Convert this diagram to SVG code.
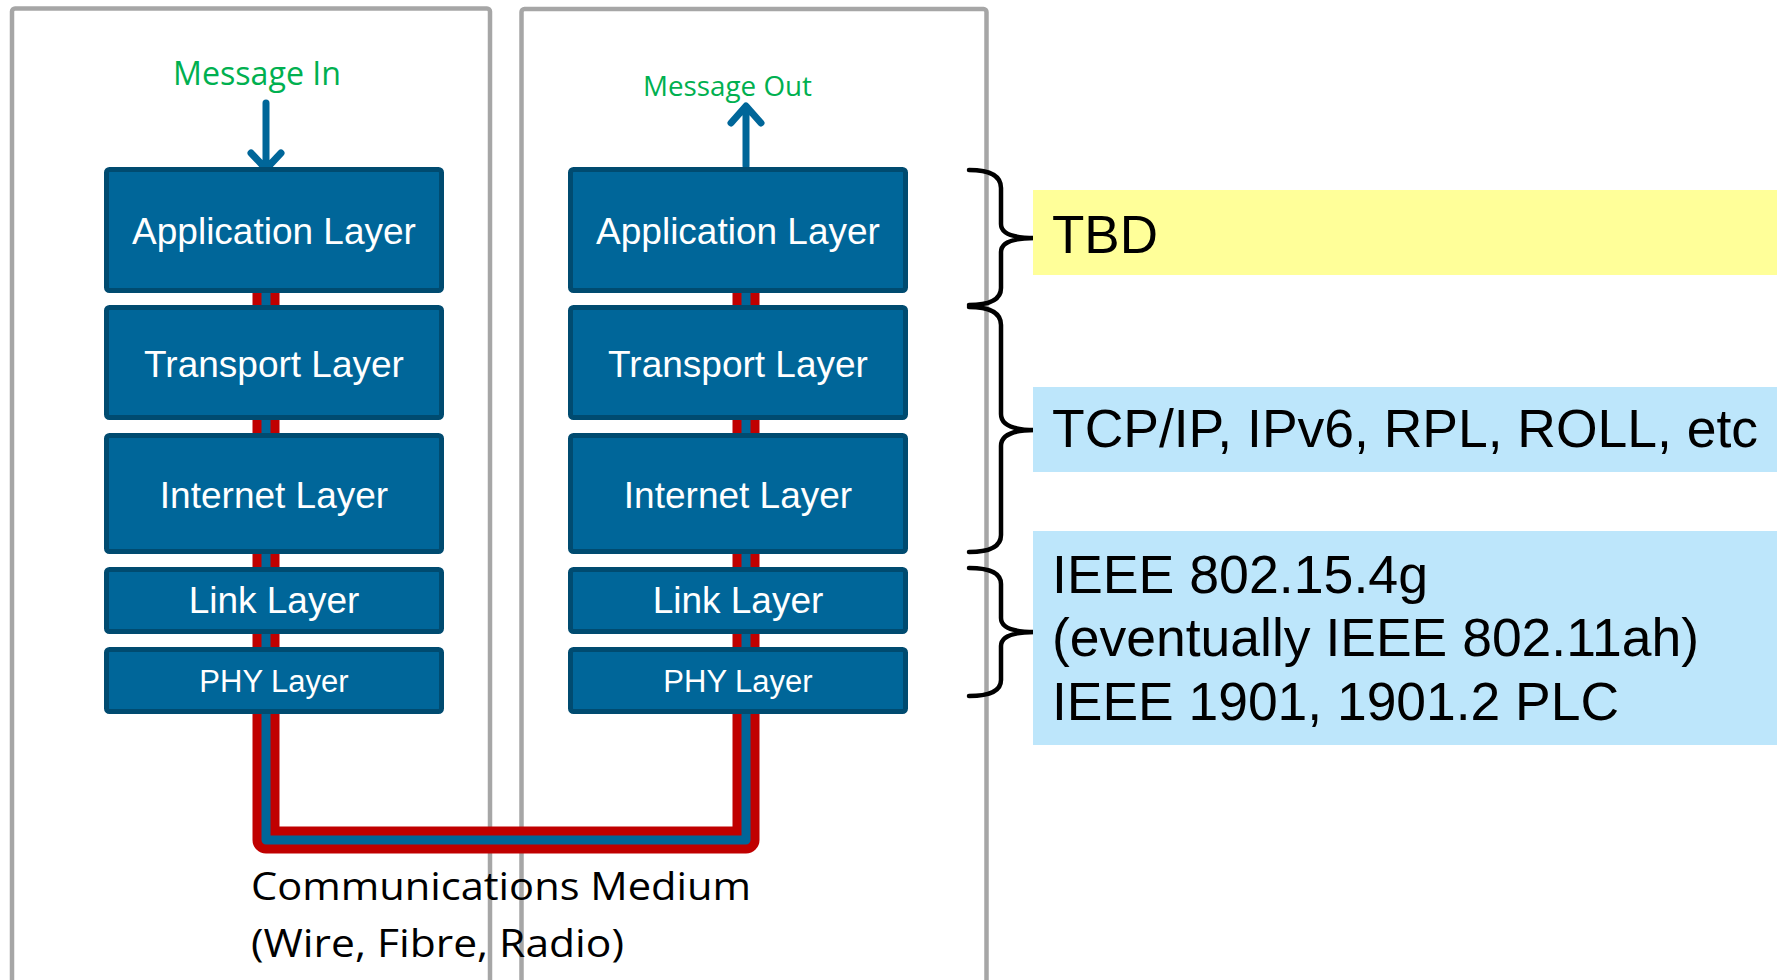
<svg xmlns="http://www.w3.org/2000/svg" width="1777" height="980" viewBox="0 0 1777 980">
  <style>
    .panel { fill: none; stroke: #a6a6a6; stroke-width: 4.5; }
    .layer { fill: #006699; stroke: #004b70; stroke-width: 5; }
    .lt { fill: #ffffff; font-family: "Liberation Sans", Arial, sans-serif; font-size: 37px; text-anchor: middle; }
    .lt-s { font-size: 31px; }
    .msg { fill: #00b050; font-family: "Open Sans", "Noto Sans", sans-serif; }
    .medium { fill: #000000; font-family: "Open Sans", "Noto Sans", sans-serif; font-size: 38px; }
    .note { fill: #000000; font-family: "Liberation Sans", Arial, sans-serif; font-size: 54px; }
    .brace { fill: none; stroke: #000000; stroke-width: 4.5; stroke-linecap: round; stroke-linejoin: round; }
    .arrow { fill: none; stroke: #006699; stroke-width: 7; stroke-linecap: round; stroke-linejoin: round; }
    .wire-outer { fill: none; stroke: #c00000; stroke-width: 27; stroke-linejoin: round; }
    .wire-inner { fill: none; stroke: #006699; stroke-width: 9; stroke-linejoin: round; }
  </style>

  <rect width="1777" height="980" fill="#ffffff"/>

  <!-- host frames -->
  <g id="host-sender">
    <rect class="panel" x="12" y="8.5" width="478" height="1000" rx="3"/>
  </g>
  <g id="host-receiver">
    <rect class="panel" x="521.5" y="9" width="465" height="1000" rx="3"/>
  </g>

  <!-- connectors: communication medium and message arrows -->
  <g id="connectors">
    <path class="wire-outer" d="M266,250 V840 H746 V250"/>
    <path class="wire-inner" d="M266,250 V840 H746 V250"/>
    <path class="arrow" d="M266,103 V167 M251,153 L266,169 L281,153"/>
    <path class="arrow" d="M746,166 V107 M731,123 L746,106 L761,123"/>
  </g>

  <!-- sender stack -->
  <g id="sender-application">
    <rect class="layer" x="106.5" y="169.5" width="335" height="121" rx="3"/>
    <text class="lt" x="274" y="244">Application Layer</text>
  </g>
  <g id="sender-transport">
    <rect class="layer" x="106.5" y="307.5" width="335" height="110" rx="3"/>
    <text class="lt" x="274" y="377">Transport Layer</text>
  </g>
  <g id="sender-internet">
    <rect class="layer" x="106.5" y="435.5" width="335" height="116" rx="3"/>
    <text class="lt" x="274" y="508">Internet Layer</text>
  </g>
  <g id="sender-link">
    <rect class="layer" x="106.5" y="569.5" width="335" height="62" rx="3"/>
    <text class="lt" x="274" y="613">Link Layer</text>
  </g>
  <g id="sender-phy">
    <rect class="layer" x="106.5" y="649.5" width="335" height="62" rx="3"/>
    <text class="lt lt-s" x="274" y="692">PHY Layer</text>
  </g>

  <!-- receiver stack -->
  <g id="receiver-application">
    <rect class="layer" x="570.5" y="169.5" width="335" height="121" rx="3"/>
    <text class="lt" x="738" y="244">Application Layer</text>
  </g>
  <g id="receiver-transport">
    <rect class="layer" x="570.5" y="307.5" width="335" height="110" rx="3"/>
    <text class="lt" x="738" y="377">Transport Layer</text>
  </g>
  <g id="receiver-internet">
    <rect class="layer" x="570.5" y="435.5" width="335" height="116" rx="3"/>
    <text class="lt" x="738" y="508">Internet Layer</text>
  </g>
  <g id="receiver-link">
    <rect class="layer" x="570.5" y="569.5" width="335" height="62" rx="3"/>
    <text class="lt" x="738" y="613">Link Layer</text>
  </g>
  <g id="receiver-phy">
    <rect class="layer" x="570.5" y="649.5" width="335" height="62" rx="3"/>
    <text class="lt lt-s" x="738" y="692">PHY Layer</text>
  </g>

  <!-- message labels -->
  <g id="message-in">
    <text class="msg" x="173" y="85" font-size="32" textLength="168" lengthAdjust="spacingAndGlyphs">Message In</text>
  </g>
  <g id="message-out">
    <text class="msg" x="643" y="96" font-size="27" textLength="169" lengthAdjust="spacingAndGlyphs">Message Out</text>
  </g>

  <!-- medium caption -->
  <g id="medium-label">
    <text class="medium" x="251" y="900" textLength="500" lengthAdjust="spacingAndGlyphs">Communications Medium</text>
    <text class="medium" x="251" y="957" textLength="373" lengthAdjust="spacingAndGlyphs">(Wire, Fibre, Radio)</text>
  </g>

  <!-- protocol braces -->
  <g id="brace-application">
    <path class="brace" d="M969,170 Q1001,170 1001,188 V224 Q1001,238 1035,238 Q1001,238 1001,252 V288 Q1001,305 969,305"/>
  </g>
  <g id="brace-network">
    <path class="brace" d="M969,307 Q1001,307 1001,325 V414 Q1001,430 1035,430 Q1001,430 1001,446 V535 Q1001,552 969,552"/>
  </g>
  <g id="brace-physical">
    <path class="brace" d="M969,568 Q1001,568 1001,584 V618 Q1001,632 1035,632 Q1001,632 1001,646 V680 Q1001,696 969,696"/>
  </g>

  <!-- protocol notes -->
  <g id="note-tbd">
    <rect x="1033" y="190" width="744" height="85" fill="#ffff99"/>
    <text class="note" x="1052" y="253" textLength="106" lengthAdjust="spacingAndGlyphs">TBD</text>
  </g>
  <g id="note-tcpip">
    <rect x="1033" y="387" width="744" height="85" fill="#bde6fb"/>
    <text class="note" x="1052" y="447" textLength="706" lengthAdjust="spacingAndGlyphs">TCP/IP, IPv6, RPL, ROLL, etc</text>
  </g>
  <g id="note-ieee">
    <rect x="1033" y="531" width="744" height="214" fill="#bde6fb"/>
    <text class="note" x="1052" y="593" textLength="376" lengthAdjust="spacingAndGlyphs">IEEE 802.15.4g</text>
    <text class="note" x="1052" y="656" textLength="647" lengthAdjust="spacingAndGlyphs">(eventually IEEE 802.11ah)</text>
    <text class="note" x="1052" y="720" textLength="567" lengthAdjust="spacingAndGlyphs">IEEE 1901, 1901.2 PLC</text>
  </g>
</svg>
